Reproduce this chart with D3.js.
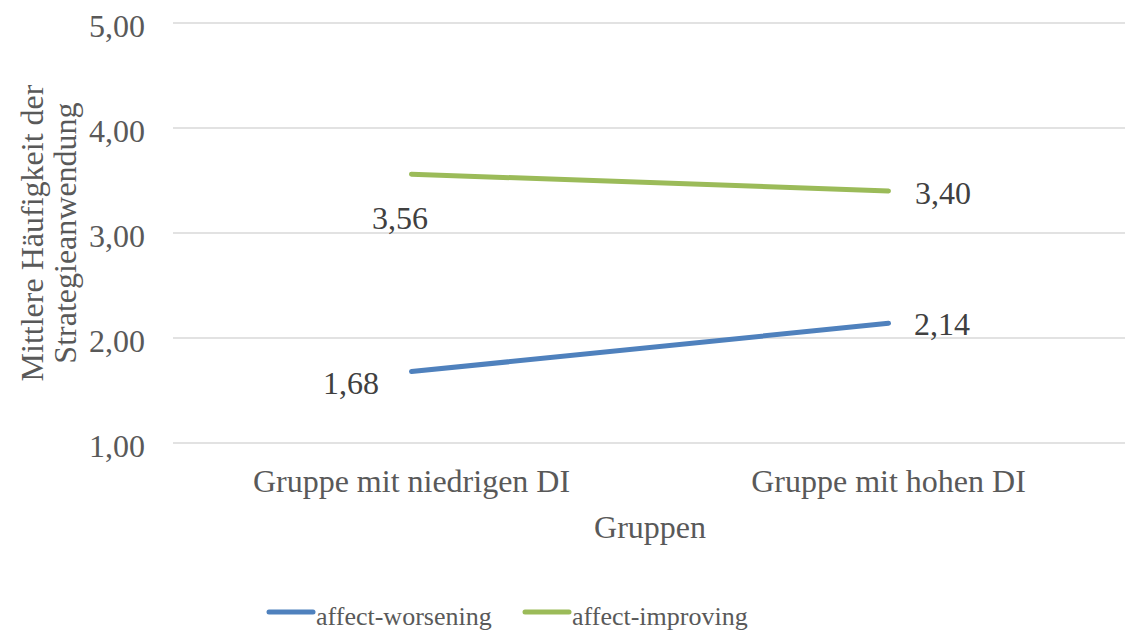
<!DOCTYPE html>
<html><head><meta charset="utf-8">
<script src="https://cdn.jsdelivr.net/npm/d3@7"></script>
<style>
html,body{margin:0;padding:0;background:#fff;}
text{font-family:"Liberation Serif","Times New Roman",serif;}
</style></head>
<body><svg id="c" width="1125" height="633"></svg>
<script>
const categories = ["Gruppe mit niedrigen DI", "Gruppe mit hohen DI"];
const seriesNames = ["affect-worsening", "affect-improving"];
const worsening = [1.68, 2.14];
const improving = [3.56, 3.40];
const yTicks = [1, 2, 3, 4, 5];
const yTickLabels = ["1,00", "2,00", "3,00", "4,00", "5,00"];
const colors = ["#4f81bd", "#9bbb59"];

(function(){
const svg = d3.select("#c");
const pL = 173, pR = 1127, pT = 23, pB = 443;
const FS = 32;
const x = d3.scaleBand().domain(categories).range([pL, pR]);
const y = d3.scaleLinear().domain([1, 5]).range([pB, pT]);

// gridlines
svg.append("g").selectAll("line").data(yTicks).join("line")
  .attr("x1", pL).attr("x2", 1125)
  .attr("y1", d => y(d)).attr("y2", d => y(d))
  .attr("stroke", "#d9d9d9").attr("stroke-width", 1.5);

// y axis labels
const yAxis = d3.axisLeft(y).tickValues(yTicks).tickFormat((d,i) => yTickLabels[i]).tickSize(0).tickPadding(0);
const ya = svg.append("g").attr("transform", `translate(145,0)`).call(yAxis);
ya.select(".domain").remove();
ya.selectAll("text").attr("font-size", FS).attr("fill", "#595959")
  .attr("font-family", "Liberation Serif").attr("dy", "0.43em");

// x axis labels
const xAxis = d3.axisBottom(x).tickSize(0).tickPadding(0);
const xa = svg.append("g").attr("transform", `translate(0,492)`).call(xAxis);
xa.select(".domain").remove();
xa.selectAll("text").attr("font-size", FS).attr("fill", "#595959")
  .attr("font-family", "Liberation Serif").attr("dy", 0);

// axis titles
svg.append("text").attr("x", (pL+pR)/2).attr("y", 538).attr("text-anchor", "middle")
  .attr("font-size", FS).attr("fill", "#595959").text("Gruppen");
const yt = svg.append("text").attr("transform", `translate(0,${(pT+pB)/2}) rotate(-90)`)
  .attr("text-anchor", "middle").attr("font-size", FS).attr("fill", "#595959");
yt.append("tspan").attr("x", 0).attr("y", 43).text("Mittlere Häufigkeit der");
yt.append("tspan").attr("x", 0).attr("y", 76).text("Strategieanwendung");

// lines
const series = [worsening, improving];
const line = d3.line().x((d,i) => x(categories[i]) + x.bandwidth()/2).y(d => y(d));
svg.append("g").selectAll("path").data(series).join("path")
  .attr("d", d => line(d)).attr("fill", "none")
  .attr("stroke", (d,i) => colors[i]).attr("stroke-width", 5).attr("stroke-linecap", "round");

// data labels
const fmt = v => v.toFixed(2).replace(".", ",");
const cx = i => x(categories[i]) + x.bandwidth()/2;
const labels = [
  {v: worsening[0], x: cx(0) - 32.5, y: y(worsening[0]) + 22.5, anchor: "end"},
  {v: worsening[1], x: cx(1) + 25.5, y: y(worsening[1]) + 12, anchor: "start"},
  {v: improving[0], x: cx(0) - 11.5, y: y(improving[0]) + 55, anchor: "middle"},
  {v: improving[1], x: cx(1) + 26.5, y: y(improving[1]) + 13, anchor: "start"}
];
svg.append("g").selectAll("text").data(labels).join("text")
  .attr("x", d => d.x).attr("y", d => d.y).attr("text-anchor", d => d.anchor)
  .attr("font-size", FS).attr("fill", "#404040").text(d => fmt(d.v));

// legend
const lg = svg.append("g");
const legX = [269, 525];
seriesNames.forEach((n, i) => {
  lg.append("line").attr("x1", legX[i]).attr("x2", legX[i] + 44).attr("y1", 612).attr("y2", 612)
    .attr("stroke", colors[i]).attr("stroke-width", 5).attr("stroke-linecap", "round");
  lg.append("text").attr("x", legX[i] + 47).attr("y", 625).attr("font-size", 26).attr("fill", "#595959").text(n);
});
})();
</script></body></html>
